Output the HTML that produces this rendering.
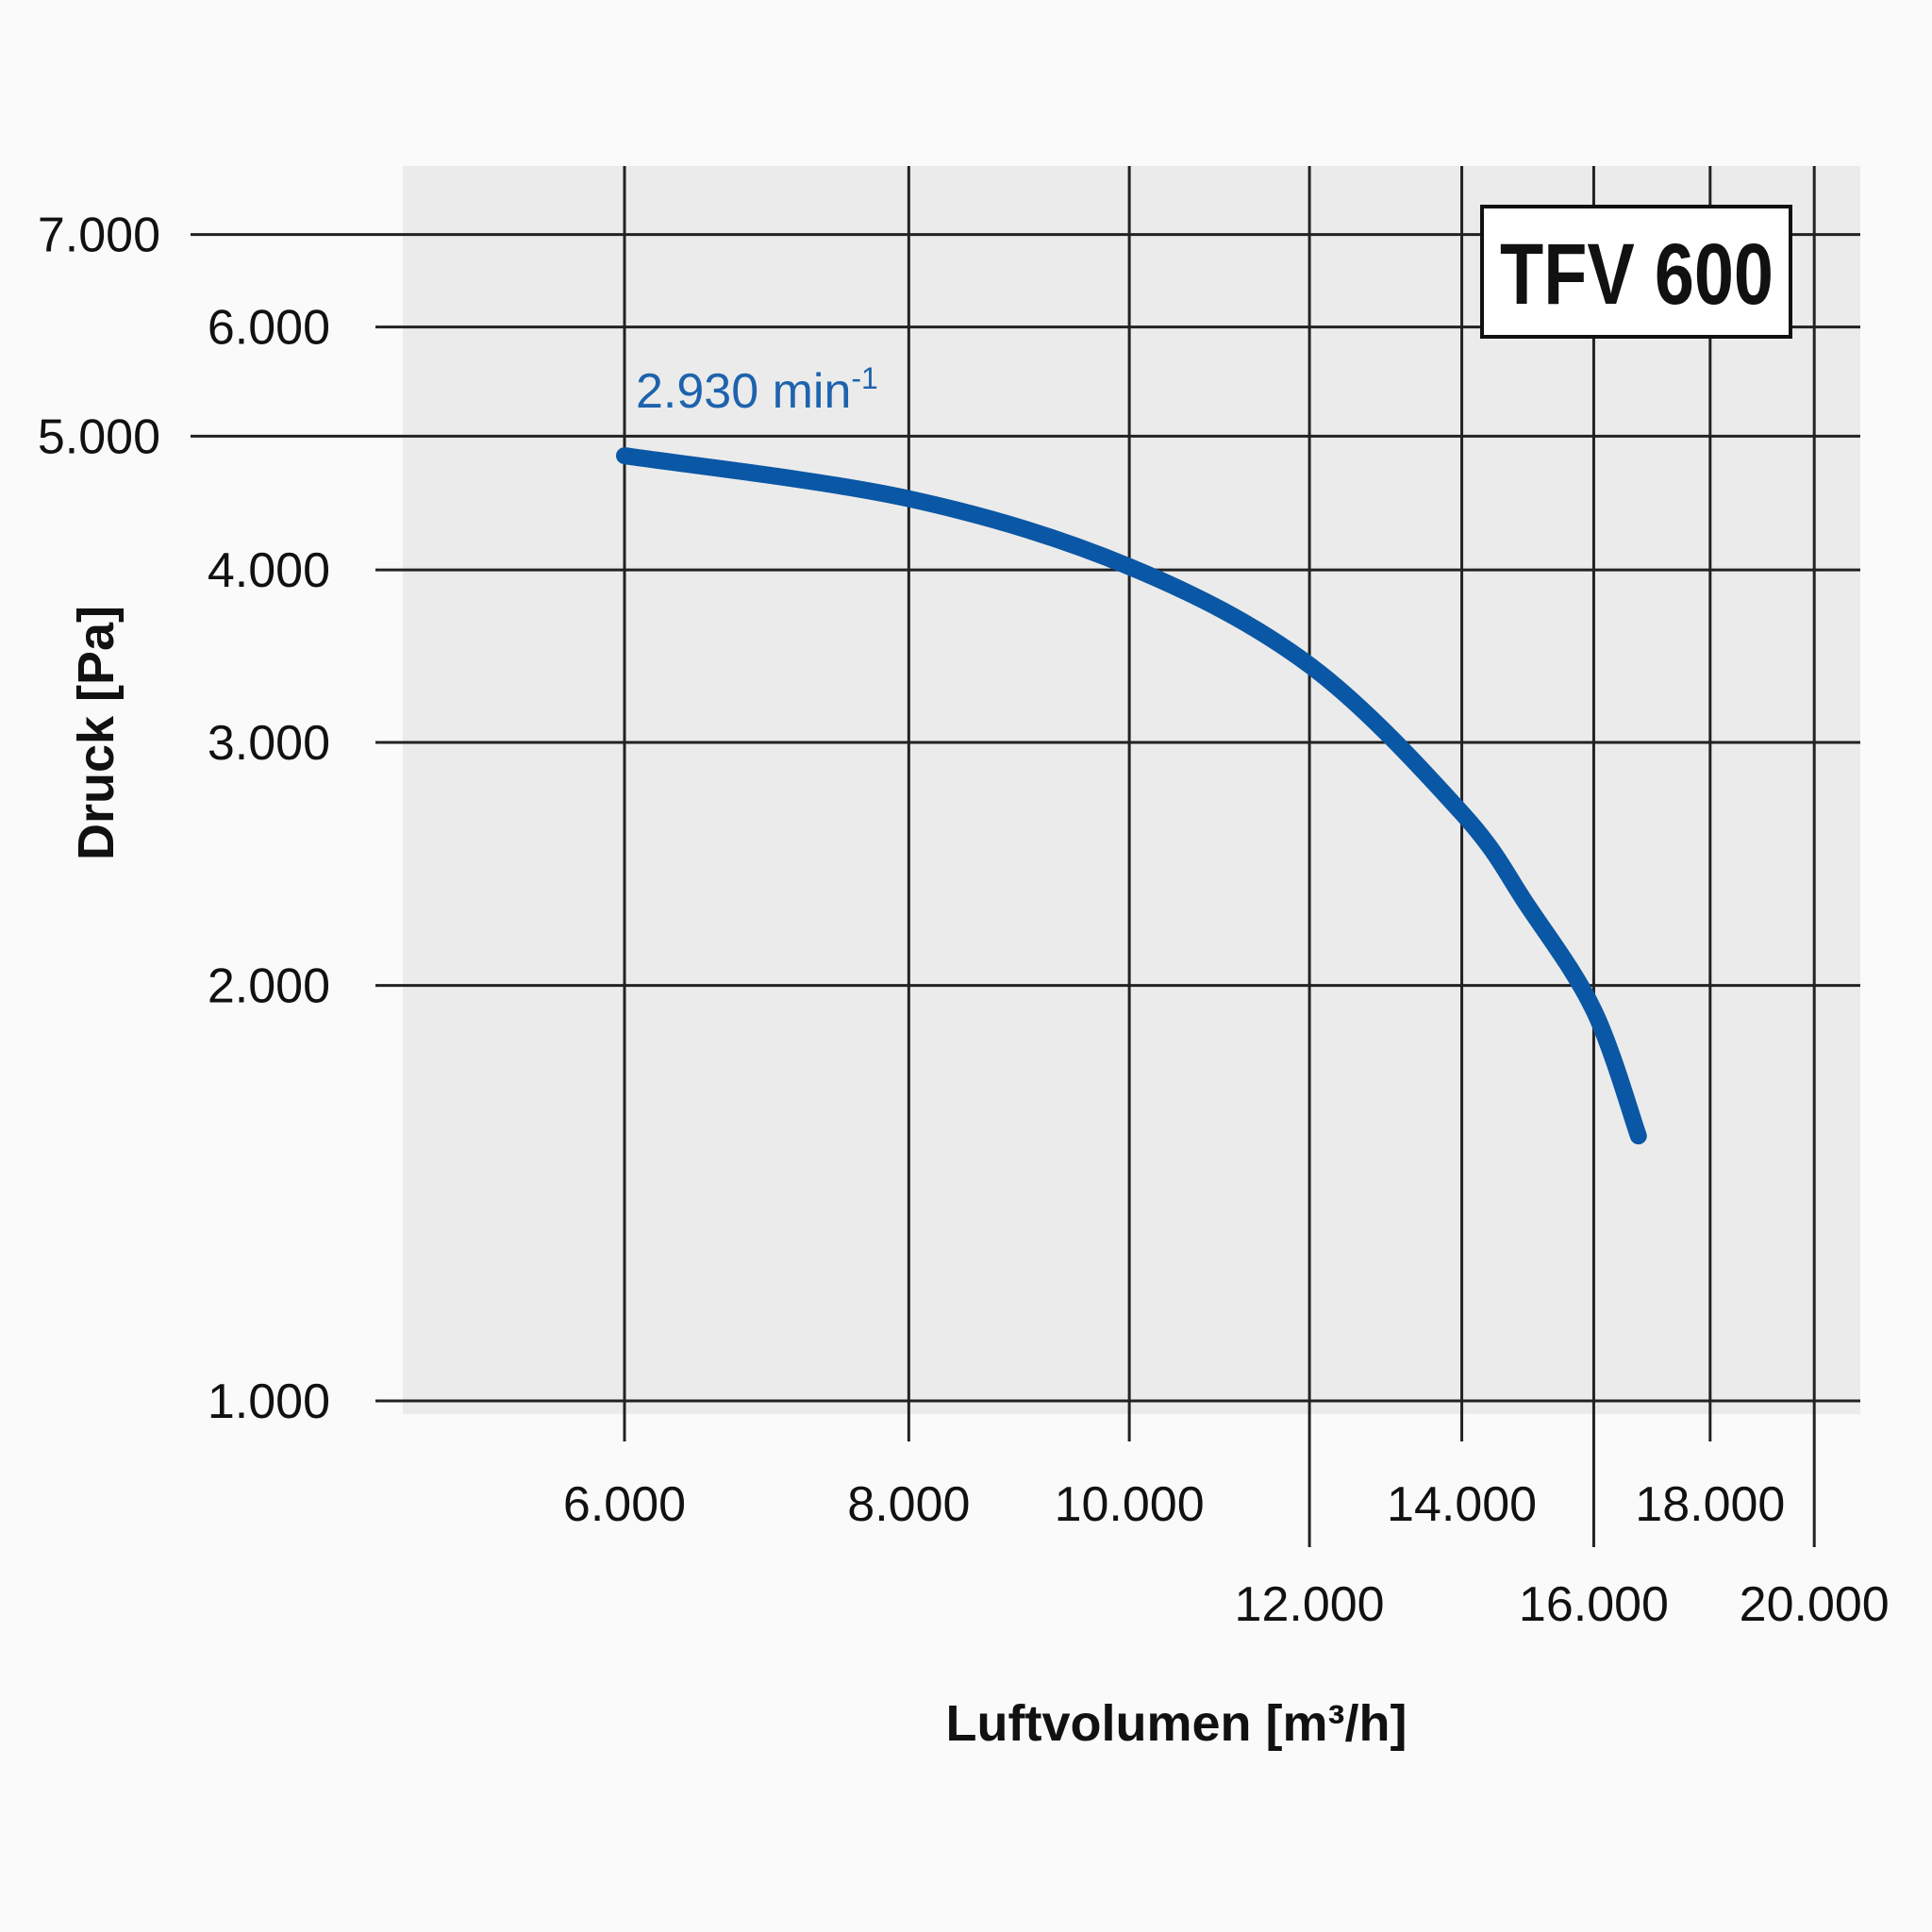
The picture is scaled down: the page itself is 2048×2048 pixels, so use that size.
<!DOCTYPE html>
<html><head><meta charset="utf-8"><style>
html,body{margin:0;padding:0;background:#fafafa;}
svg{display:block;}
text{font-family:"Liberation Sans",sans-serif;}
</style></head><body>
<svg id="chart" width="2048" height="2048" viewBox="0 0 2048 2048">
<rect x="0" y="0" width="2048" height="2048" fill="#fafafa"/>
<rect x="427" y="176" width="1545" height="1323" fill="#ebebeb"/>
<g id="grid"></g>
<g id="labels"></g>
<path id="curve" fill="none" stroke="#0a57a5" stroke-width="18" stroke-linecap="round"/>
<text x="674" y="432" font-size="52" fill="#1d63ad">2.930 min<tspan font-size="32" dy="-20">-1</tspan></text>
<rect x="1571" y="219" width="327" height="138" fill="#fff" stroke="#111" stroke-width="4"/>
<text x="1590" y="322" font-size="92" font-weight="bold" textLength="290" lengthAdjust="spacingAndGlyphs" fill="#111">TFV 600</text>
<text transform="translate(120,777) rotate(-90)" font-size="54" font-weight="bold" text-anchor="middle" fill="#111">Druck [Pa]</text>
<text x="1247" y="1845" font-size="54" font-weight="bold" text-anchor="middle" fill="#111">Luftvolumen [m³/h]</text>
</svg>
<script>
const xTicks=[6000,8000,10000,12000,14000,16000,18000,20000];
const xTickLabels=["6.000","8.000","10.000","12.000","14.000","16.000","18.000","20.000"];
const xTickRow=[0,0,0,1,0,1,0,1];
const yTicks=[1000,2000,3000,4000,5000,6000,7000];
const yTickLabels=["1.000","2.000","3.000","4.000","5.000","6.000","7.000"];
const yTickLong=[0,0,0,0,1,0,1];
const curveX=[6000,8000,10000,12000,14000,14960,16000,16740];
const curveY=[4840,4505,4022,3413,2667,2286,1919,1556];
const NS="http://www.w3.org/2000/svg";
function sx(v){return 662+(Math.log10(v)-Math.log10(6000))*2412;}
function sy(v){return 1485-(Math.log10(v)-3)*1463;}
const grid=document.getElementById('grid'),labels=document.getElementById('labels');
xTicks.forEach((t,i)=>{
 const l=document.createElementNS(NS,'line');
 
 
 const x=sx(t);
 l.setAttribute('x1',x);l.setAttribute('x2',x);l.setAttribute('y1',176);
 l.setAttribute('y2',xTickRow[i]?1640:1528);
 l.setAttribute('stroke','#222');l.setAttribute('stroke-width',3);
 grid.appendChild(l);
 const tx=document.createElementNS(NS,'text');
 
 
 tx.setAttribute('x',x);tx.setAttribute('y',xTickRow[i]?1718:1612);
 tx.setAttribute('font-size','52');tx.setAttribute('text-anchor','middle');tx.setAttribute('fill','#111');
 tx.textContent=xTickLabels[i];labels.appendChild(tx);
});
yTicks.forEach((t,i)=>{
 const l=document.createElementNS(NS,'line');
 
 
 const y=sy(t);
 l.setAttribute('x1',yTickLong[i]?202:398);l.setAttribute('x2',1972);
 l.setAttribute('y1',y);l.setAttribute('y2',y);
 l.setAttribute('stroke','#222');l.setAttribute('stroke-width',3);
 grid.appendChild(l);
 const tx=document.createElementNS(NS,'text');
 
 
 tx.setAttribute('x',yTickLong[i]?170:350);tx.setAttribute('y',y+18);
 tx.setAttribute('font-size','52');tx.setAttribute('text-anchor','end');tx.setAttribute('fill','#111');
 tx.textContent=yTickLabels[i];labels.appendChild(tx);
});
const pts=curveX.map((v,i)=>[sx(v),sy(curveY[i])]);
let d='M'+pts[0][0]+','+pts[0][1];
for(let i=0;i<pts.length-1;i++){
 const p0=pts[Math.max(0,i-1)],p1=pts[i],p2=pts[i+1],p3=pts[Math.min(pts.length-1,i+2)];
 const c1=[p1[0]+(p2[0]-p0[0])/6,p1[1]+(p2[1]-p0[1])/6];
 const c2=[p2[0]-(p3[0]-p1[0])/6,p2[1]-(p3[1]-p1[1])/6];
 d+=' C'+c1[0]+','+c1[1]+' '+c2[0]+','+c2[1]+' '+p2[0]+','+p2[1];
}
document.getElementById('curve').setAttribute('d',d);
</script>
</body></html>
